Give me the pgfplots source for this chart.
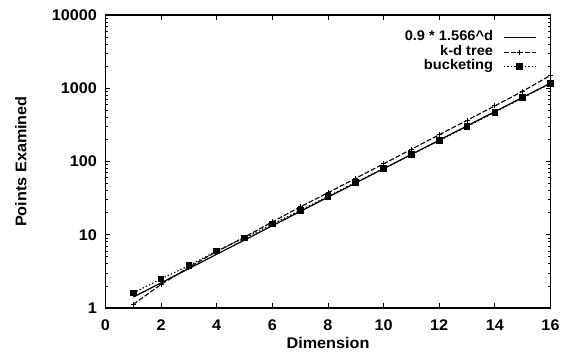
\documentclass[border=0pt]{standalone}
\usepackage{fontspec}
\setmainfont{Liberation Sans}[FakeStretch=1.05]
\usepackage{pgfplots}
\pgfplotsset{compat=1.18}
\begin{document}
\begin{tikzpicture}
\newcommand{\lblfont}{\bfseries\fontsize{15.5}{15.5}\selectfont}
\newcommand{\legfont}{\bfseries\fontsize{14}{14}\selectfont}
\begin{axis}[
  scale only axis, width=445bp, height=293bp,
  at={(0,0)}, anchor=south west,
  xmin=0, xmax=16, ymin=1, ymax=10000,
  ymode=log,
  xtick={0,2,...,16},
  ytick={1,10,100,1000,10000},
  yticklabels={1,10,100,1000,10000},
  minor ytick={2,3,4,5,6,7,8,9,20,30,40,50,60,70,80,90,200,300,400,500,600,700,800,900,2000,3000,4000,5000,6000,7000,8000,9000},
  tick align=inside,
  tick pos=both,
  major tick length=5bp, minor tick length=3bp,
  every tick/.style={black, line width=0.9bp},
  axis line style={line width=1.5bp},
  /pgf/number format/assume math mode=true,
  tick label style={font=\lblfont},
  xticklabel style={yshift=-8.5bp},
  yticklabel style={xshift=-5bp},
  xlabel={Dimension},
  ylabel={Points Examined},
  label style={font=\lblfont},
  xlabel style={at={(axis description cs:0.5,-0.119)}, anchor=center},
  ylabel style={at={(axis description cs:-0.19,0.5)}, anchor=center, rotate=0},
  legend plot pos=right,
  legend cell align=right,
  legend style={draw=none, fill=none, font=\legfont,
    at={(rel axis cs:0.9686,0.948)}, anchor=north east,
    inner sep=0pt, row sep=0pt,
    nodes={inner sep=0pt, text height=10.5bp, text depth=4bp},
    /tikz/every odd column/.append style={column sep=10bp}},
  legend image code/.code={\draw[mark repeat=2,mark phase=2] plot coordinates {(0bp,0bp) (16bp,0bp) (32bp,0bp)};},
]
\addplot[black, line width=1.2bp, mark=none] coordinates {
(1,1.409) (2,2.207) (3,3.457) (4,5.413) (5,8.477) (6,13.28) (7,20.79) (8,32.56)
(9,50.98) (10,79.84) (11,125.0) (12,195.8) (13,306.6) (14,480.2) (15,751.9) (16,1177)
};
\addlegendentry{0.9 * 1.566\string^d}
\addplot[black, line width=1.1bp, dash pattern=on 5bp off 2bp, mark=+, mark size=2.5bp, mark options={solid, line width=1bp}] coordinates {
(1,1.12) (2,2.1) (3,3.6) (4,5.9) (5,9.3) (6,15) (7,24) (8,37.5)
(9,59) (10,93) (11,147) (12,232) (13,365) (14,575) (15,910) (16,1500)
};
\addlegendentry{k-d tree}
\addplot[black, line width=1.1bp, dash pattern=on 1.5bp off 2bp, mark=square*, mark size=2.8bp, mark options={solid}] coordinates {
(1,1.6) (2,2.5) (3,3.8) (4,6.0) (5,9.0) (6,14) (7,21.5) (8,33.5)
(9,52) (10,80) (11,124) (12,193) (13,300) (14,470) (15,740) (16,1150)
};
\addlegendentry{bucketing}
\end{axis}
\pgfresetboundingbox
\path[use as bounding box] (-105.5bp,-47bp) rectangle (455.5bp,308bp);
\end{tikzpicture}
\end{document}
